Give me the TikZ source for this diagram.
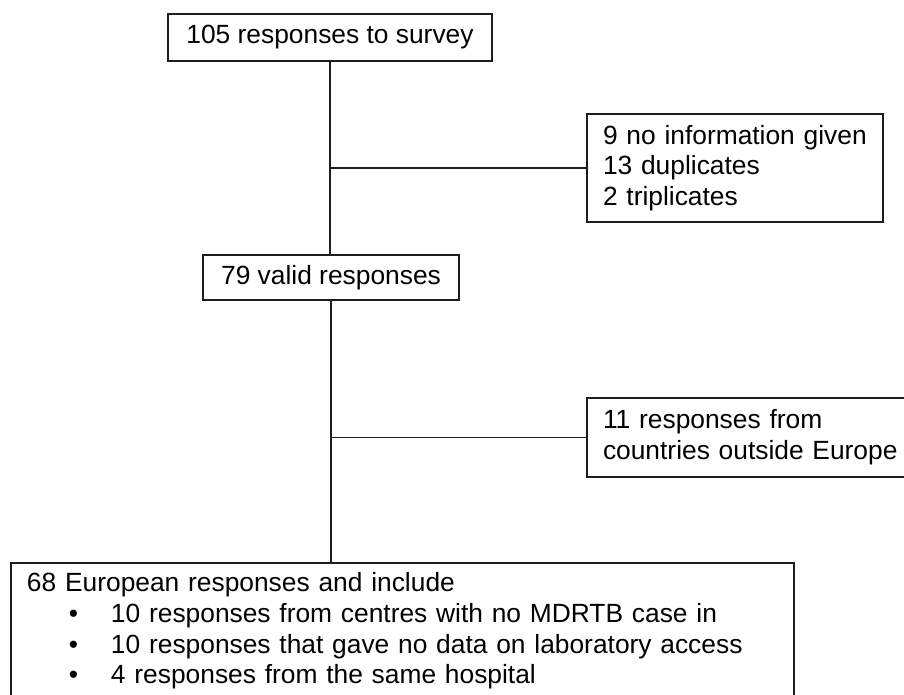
\documentclass[tikz,border=0pt]{standalone}
\usepackage{fontspec}
\setmainfont{Liberation Sans}
\usetikzlibrary{calc}
\definecolor{rahmen}{RGB}{30,30,30}

\begin{document}
\begin{tikzpicture}[x=0.2mm, y=-0.2mm, rahmen, line width=1pt,
    kasten/.style={draw=rahmen, rectangle, inner xsep=3.2mm, inner ysep=0pt, text=black,
        font=\fontsize{15}{17.5}\selectfont},
    liste/.style={kasten, align=left}]

    \useasboundingbox (0,0) rectangle (904,695);
    \clip (0,0) rectangle (904,695);

    \node[kasten, minimum width=64.8mm, minimum height=9.4mm] (survey) at (330,37.5) {105 responses to survey};
    \node[kasten, minimum width=51.2mm, minimum height=9mm] (valid) at (331,277.5) {79 valid responses};

    \node[liste, text width=52.8mm, minimum height=21.6mm] (dupl) at (735,168)
        {9 no information given\\13 duplicates\\2 triplicates};
    \node[liste, text width=59.2mm, minimum height=15.8mm] (outside) at (751,437.5)
        {11 responses from\\countries outside Europe};

    \node[liste, text width=150.2mm, minimum height=27.2mm] (europe) at (402.5,631)
        {68 European responses and include\\
         \hspace*{8.4mm}\makebox[8.4mm][l]{\textbullet}10 responses from centres with no MDRTB case in\\
         \hspace*{8.4mm}\makebox[8.4mm][l]{\textbullet}10 responses that gave no data on laboratory access\\
         \hspace*{8.4mm}\makebox[8.4mm][l]{\textbullet}4 responses from the same hospital};

    % main line and side branches
    \draw (survey.south) -- (survey.south |- valid.north);
    \draw (survey.south |- dupl.west) -- (dupl.west);
    \draw (valid.south) -- (valid.south |- europe.north);
    \draw (valid.south |- outside.west) -- (outside.west);

\end{tikzpicture}
\end{document}
